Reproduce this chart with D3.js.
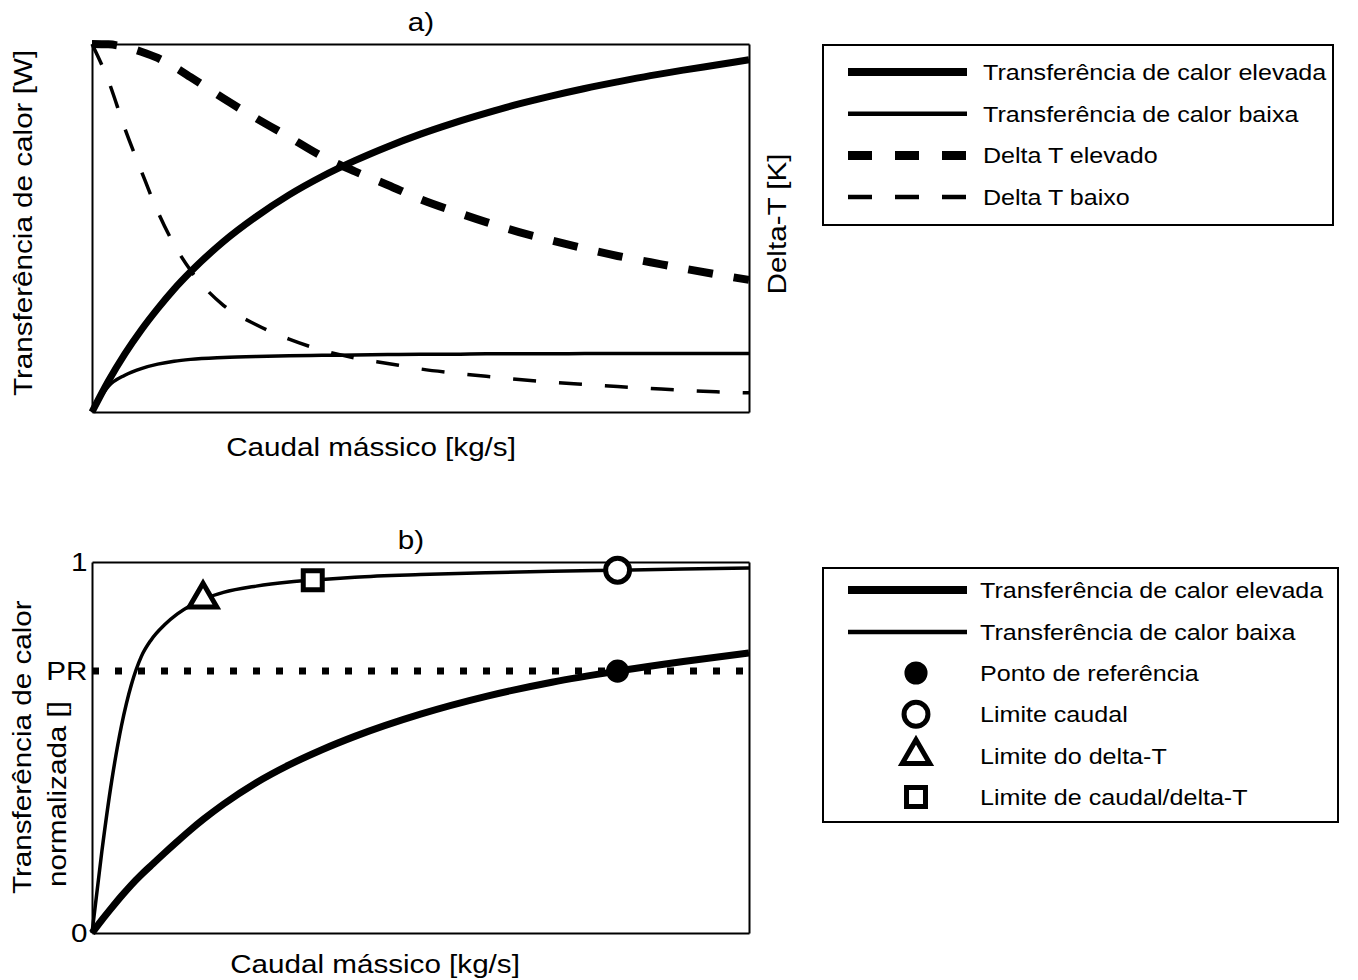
<!DOCTYPE html>
<html>
<head>
<meta charset="utf-8">
<script src="https://cdn.jsdelivr.net/npm/d3@7"></script>
<style>
  body { margin: 0; background: #fff; }
  text { font-family: "Liberation Sans", Arial, sans-serif; fill: #000; }
</style>
</head>
<body>
<div id="root"></div>
<script>
// panel a) - mass flow vs heat transfer / delta-T (normalised 0..1)
var flowA = [0, 0.025, 0.05, 0.075, 0.1, 0.125, 0.15, 0.2, 0.25, 0.3, 0.35, 0.4, 0.45, 0.5, 0.55, 0.6, 0.65, 0.7, 0.75, 0.8, 0.85, 0.9, 0.95, 1];
var heatHighA = [0, 0.084, 0.158, 0.223, 0.281, 0.334, 0.381, 0.463, 0.531, 0.590, 0.640, 0.683, 0.721, 0.755, 0.785, 0.812, 0.837, 0.859, 0.879, 0.897, 0.914, 0.929, 0.943, 0.957];
var heatLowA = [0, 0.07, 0.100, 0.118, 0.130, 0.138, 0.143, 0.148, 0.151, 0.153, 0.154, 0.155, 0.156, 0.157, 0.157, 0.158, 0.158, 0.158, 0.159, 0.159, 0.159, 0.159, 0.159, 0.159];
var deltaHighA = [1.0, 0.999, 0.992, 0.979, 0.962, 0.938, 0.91, 0.852, 0.798, 0.747, 0.695, 0.654, 0.617, 0.578, 0.546, 0.516, 0.489, 0.466, 0.444, 0.424, 0.407, 0.39, 0.374, 0.359];
var deltaLowA = [1.0, 0.9, 0.77, 0.655, 0.545, 0.455, 0.385, 0.29, 0.237, 0.198, 0.168, 0.147, 0.132, 0.117, 0.106, 0.097, 0.088, 0.081, 0.075, 0.069, 0.064, 0.059, 0.055, 0.052];

// panel b) - normalised heat transfer
var flowB = [0, 0.015, 0.03, 0.045, 0.06, 0.075, 0.09, 0.11, 0.13, 0.15, 0.17, 0.2, 0.25, 0.3, 0.35, 0.4, 0.5, 0.6, 0.7, 0.8, 0.9, 1];
var heatLowB = [0, 0.22, 0.41, 0.56, 0.67, 0.745, 0.79, 0.83, 0.86, 0.883, 0.9, 0.918, 0.935, 0.946, 0.953, 0.959, 0.966, 0.971, 0.975, 0.978, 0.981, 0.984];
var heatHighB = [0, 0.035, 0.068, 0.1, 0.13, 0.157, 0.182, 0.215, 0.247, 0.278, 0.307, 0.347, 0.405, 0.453, 0.494, 0.530, 0.590, 0.638, 0.676, 0.706, 0.732, 0.755];
var refLevel = 0.706;

var markerNames = ['Ponto de referência', 'Limite caudal', 'Limite do delta-T', 'Limite de caudal/delta-T'];
var markerFlow = [0.8, 0.8, 0.169, 0.336];
var markerValue = [0.706, 0.978, 0.9, 0.951];

var tickValuesB = [0, refLevel, 1];
var tickLabelsB = ['0', 'PR', '1'];

var legendLabelsA = ['Transferência de calor elevada', 'Transferência de calor baixa', 'Delta T elevado', 'Delta T baixo'];
var legendLabelsB = ['Transferência de calor elevada', 'Transferência de calor baixa'];

// text in the source is a bit wider than Liberation Sans
var stretch = 1.14;

var svg = d3.select('#root')
  .append('svg')
    .attr('width', 1358)
    .attr('height', 980);

var x = d3.scaleLinear().domain([0, 1]).range([92, 749]);
var yA = d3.scaleLinear().domain([0, 1]).range([412, 44]);
var yB = d3.scaleLinear().domain([0, 1]).range([933, 562]);

var styles = {
  high: { width: 7, dash: null },
  low: { width: 3.5, dash: null },
  dHigh: { width: 8, dash: '25,21' },
  dLow: { width: 3.5, dash: '23,23' }
};

function label(txt, px, py, size, anchor, rotate) {
  return svg.append('text')
    .attr('transform', 'translate(' + px + ',' + py + ')' + (rotate ? ' rotate(-90)' : '') + ' scale(' + stretch + ',1)')
    .attr('font-size', size + 'px')
    .attr('text-anchor', anchor)
    .text(txt);
}

function frame(yScale) {
  var top = yScale.range()[1], bottom = yScale.range()[0];
  [
    [d3.axisBottom(x), 'translate(0,' + bottom + ')'],
    [d3.axisTop(x), 'translate(0,' + top + ')'],
    [d3.axisRight(yScale), 'translate(749,0)'],
    [d3.axisLeft(yScale), 'translate(92,0)']
  ].forEach(function (a) {
    svg.append('g')
      .attr('transform', a[1])
      .call(a[0].tickValues([]).tickSizeOuter(0))
      .select('.domain')
        .attr('stroke', '#000')
        .attr('stroke-width', 2);
  });
}

function curve(xs, ys, yScale, st) {
  var line = d3.line()
    .x(function (d, i) { return x(xs[i]); })
    .y(function (d) { return yScale(d); })
    .curve(d3.curveMonotoneX);
  svg.append('path')
    .attr('d', line(ys))
    .attr('fill', 'none')
    .attr('stroke', '#000')
    .attr('stroke-width', st.width)
    .attr('stroke-dasharray', st.dash)
    .attr('stroke-linejoin', 'round');
}

function marker(kind, px, py) {
  var sym = { 'Ponto de referência': [d3.symbolCircle, 420, true],
              'Limite caudal': [d3.symbolCircle, 450, false],
              'Limite do delta-T': [d3.symbolTriangle, 330, false],
              'Limite de caudal/delta-T': [d3.symbolSquare, 360, false] }[kind];
  svg.append('path')
    .attr('d', d3.symbol().type(sym[0]).size(sym[1]))
    .attr('transform', 'translate(' + px + ',' + py + ')')
    .attr('fill', sym[2] ? '#000' : '#fff')
    .attr('stroke', '#000')
    .attr('stroke-width', sym[2] ? 0 : 5);
}

// ---- panel a
frame(yA);
curve(flowA, deltaLowA, yA, styles.dLow);
curve(flowA, deltaHighA, yA, styles.dHigh);
curve(flowA, heatLowA, yA, styles.low);
curve(flowA, heatHighA, yA, styles.high);

label('a)', 421, 31, 26, 'middle');
label('Caudal mássico [kg/s]', 371, 456, 26, 'middle');
label('Transferência de calor [W]', 32, 223, 26, 'middle', true);
label('Delta-T [K]', 786, 224, 26, 'middle', true);

// ---- panel b
frame(yB);
svg.append('g')
  .attr('transform', 'translate(92,0)')
  .call(d3.axisLeft(yB)
    .tickValues(tickValuesB)
    .tickFormat(function (d, i) { return tickLabelsB[i]; })
    .tickSize(0)
    .tickPadding(4))
  .call(function (g) { g.select('.domain').remove(); })
  .selectAll('text')
    .attr('font-size', '26px')
    .attr('font-family', '"Liberation Sans", Arial, sans-serif')
    .attr('fill', '#000')
    .attr('transform', 'scale(' + stretch + ',1)');

svg.append('line')
  .attr('x1', x(0)).attr('x2', x(1))
  .attr('y1', yB(refLevel)).attr('y2', yB(refLevel))
  .attr('stroke', '#000')
  .attr('stroke-width', 7)
  .attr('stroke-dasharray', '7,16');

curve(flowB, heatLowB, yB, styles.low);
curve(flowB, heatHighB, yB, styles.high);
markerNames.forEach(function (n, i) {
  marker(n, x(markerFlow[i]), yB(markerValue[i]));
});

label('b)', 411, 549, 26, 'middle');
label('Caudal mássico [kg/s]', 375, 973, 26, 'middle');
label('Transferência de calor', 31, 894, 26, 'start', true);
label('normalizada []', 66, 887, 26, 'start', true);

// ---- legends
function legendLine(px, py, st) {
  svg.append('line')
    .attr('x1', px).attr('x2', px + 119)
    .attr('y1', py).attr('y2', py)
    .attr('stroke', '#000')
    .attr('stroke-width', st.width + 1)
    .attr('stroke-dasharray', st.dash ? '24,23' : null);
}

svg.append('rect')
  .attr('x', 823).attr('y', 45).attr('width', 510).attr('height', 180)
  .attr('fill', 'none').attr('stroke', '#000').attr('stroke-width', 2);
var legStylesA = [styles.high, styles.low, styles.dHigh, styles.dLow];
legendLabelsA.forEach(function (t, i) {
  var py = 72 + i * 41.7;
  legendLine(848, py, legStylesA[i]);
  label(t, 983, py + 8, 22, 'start');
});

svg.append('rect')
  .attr('x', 823).attr('y', 568).attr('width', 515).attr('height', 254)
  .attr('fill', 'none').attr('stroke', '#000').attr('stroke-width', 2);
var legStylesB = [styles.high, styles.low];
legendLabelsB.forEach(function (t, i) {
  var py = 590 + i * 42;
  legendLine(848, py, legStylesB[i]);
  label(t, 980, py + 8, 22, 'start');
});
markerNames.forEach(function (n, i) {
  var py = 673 + i * 41.3;
  marker(n, 916, py);
  label(n, 980, py + 8, 22, 'start');
});
</script>
</body>
</html>
